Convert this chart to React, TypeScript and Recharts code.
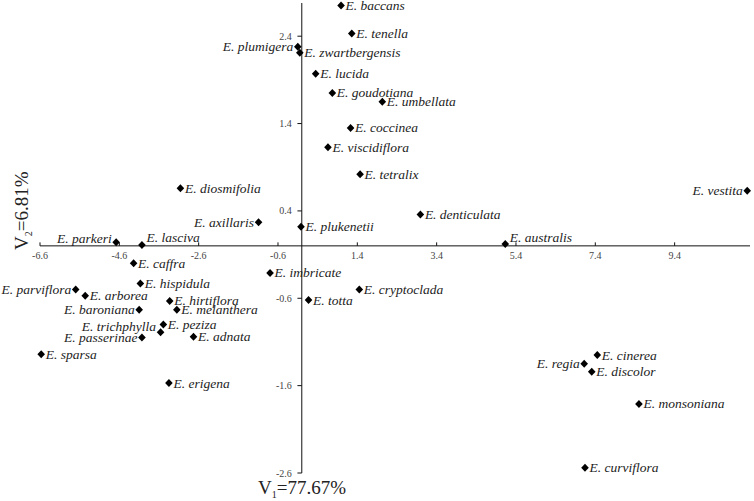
import React from 'react';
import { ScatterChart, Scatter, XAxis, YAxis, ReferenceLine, ReferenceDot } from 'recharts';

const species = [
  'E. baccans', 'E. tenella', 'E. plumigera', 'E. zwartbergensis', 'E. lucida',
  'E. goudotiana', 'E. umbellata', 'E. coccinea', 'E. viscidiflora', 'E. tetralix',
  'E. diosmifolia', 'E. vestita', 'E. denticulata', 'E. axillaris', 'E. plukenetii',
  'E. australis', 'E. parkeri', 'E. lasciva', 'E. caffra', 'E. imbricate',
  'E. hispidula', 'E. cryptoclada', 'E. parviflora', 'E. arborea', 'E. hirtiflora',
  'E. totta', 'E. baroniana', 'E. melanthera', 'E. peziza', 'E. trichphylla',
  'E. passerinae', 'E. adnata', 'E. sparsa', 'E. cinerea', 'E. regia',
  'E. discolor', 'E. erigena', 'E. monsoniana', 'E. curviflora',
];

const v1Scores = [
  0.99, 1.26, -0.1, -0.05, 0.35,
  0.77, 2.03, 1.23, 0.66, 1.47,
  -3.06, 11.23, 2.99, -1.09, -0.02,
  5.13, -4.68, -4.03, -4.24, -0.8,
  -4.07, 1.45, -5.7, -5.46, -3.33,
  0.17, -4.1, -3.15, -3.49, -3.56,
  -4.03, -2.73, -6.57, 7.45, 7.12,
  7.31, -3.35, 8.5, 7.14,
];

const v2Scores = [
  2.75, 2.43, 2.28, 2.21, 1.97,
  1.75, 1.65, 1.35, 1.13, 0.82,
  0.66, 0.63, 0.36, 0.27, 0.22,
  0.02, 0.04, 0.01, -0.2, -0.31,
  -0.43, -0.5, -0.5, -0.57, -0.63,
  -0.62, -0.73, -0.73, -0.9, -0.99,
  -1.05, -1.04, -1.24, -1.25, -1.35,
  -1.44, -1.57, -1.81, -2.54,
];

const xTicks = [-6.6, -4.6, -2.6, -0.6, 1.4, 3.4, 5.4, 7.4, 9.4];
const yTicks = [2.4, 1.4, 0.4, -0.6, -1.6, -2.6];

const data = species.map((name, i) => ({ name, x: v1Scores[i], y: v2Scores[i] }));

const leftLabelled = new Set([
  'E. plumigera', 'E. vestita', 'E. axillaris', 'E. parkeri', 'E. parviflora',
  'E. baroniana', 'E. trichphylla', 'E. passerinae', 'E. regia',
]);
const labelShift: Record<string, number> = {
  'E. lasciva': -7,
  'E. australis': -7,
  'E. parkeri': -4,
  'E. trichphylla': -6,
};

const SERIF = '"Liberation Serif", "Times New Roman", Times, serif';

function Marker(props: any) {
  const { cx, cy, payload } = props;
  if (cx == null || cy == null) return null;
  const left = leftLabelled.has(payload.name);
  const dy = labelShift[payload.name] ?? 0;
  return (
    <g>
      <path
        d={`M${cx},${cy - 4}L${cx + 3.8},${cy}L${cx},${cy + 4}L${cx - 3.8},${cy}Z`}
        fill="#000"
      />
      <text
        x={left ? cx - 4.5 : cx + 4.5}
        y={cy + 4.5 + dy}
        textAnchor={left ? 'end' : 'start'}
        fontStyle="italic"
        fontSize={13.5}
        fontFamily={SERIF}
        fill="#222"
      >
        {payload.name}
      </text>
    </g>
  );
}

export default function App() {
  return (
    <div style={{ position: 'absolute', left: 0, top: 0, width: 754, height: 501, background: '#fff' }}>
      <ScatterChart width={754} height={501} margin={{ top: 3, right: 4, bottom: 28, left: 40 }}>
        <XAxis type="number" dataKey="x" domain={[-6.6, 11.3]} hide />
        <YAxis type="number" dataKey="y" domain={[-2.6, 2.78]} hide />
        <ReferenceLine y={0} stroke="#111" strokeWidth={1} />
        <ReferenceLine x={0} stroke="#111" strokeWidth={1} />
        {xTicks.map((t) => (
          <ReferenceLine
            key={`xt${t}`}
            segment={[{ x: t, y: 0 }, { x: t, y: 0.04 }]}
            stroke="#111"
            strokeWidth={1}
          />
        ))}
        {yTicks.map((t) => (
          <ReferenceLine
            key={`yt${t}`}
            segment={[{ x: -0.11, y: t }, { x: 0, y: t }]}
            stroke="#111"
            strokeWidth={1}
          />
        ))}
        {xTicks.map((t) => (
          <ReferenceDot
            key={`xl${t}`}
            x={t}
            y={0}
            r={0}
            fill="none"
            stroke="none"
            label={{ value: t.toFixed(1), position: 'bottom', offset: 6, fontSize: 10, fill: '#444', fontFamily: SERIF }}
          />
        ))}
        {yTicks.map((t) => (
          <ReferenceDot
            key={`yl${t}`}
            x={0}
            y={t}
            r={0}
            fill="none"
            stroke="none"
            label={{ value: t.toFixed(1), position: 'left', offset: 10, fontSize: 10, fill: '#444', fontFamily: SERIF }}
          />
        ))}
        <Scatter data={data} shape={<Marker />} isAnimationActive={false} />
      </ScatterChart>
      <svg
        width={754}
        height={501}
        style={{ position: 'absolute', left: 0, top: 0, pointerEvents: 'none' }}
      >
        <text x={258} y={494} fontSize={19} fontFamily={SERIF} fill="#222">
          V<tspan fontSize={10} dy={4}>1</tspan>
          <tspan dy={-4}>=77.67%</tspan>
        </text>
        <text
          x={28}
          y={250}
          fontSize={19}
          fontFamily={SERIF}
          fill="#222"
          transform="rotate(-90 28 250)"
        >
          V<tspan fontSize={10} dy={4}>2</tspan>
          <tspan dy={-4}>=6.81%</tspan>
        </text>
      </svg>
    </div>
  );
}
